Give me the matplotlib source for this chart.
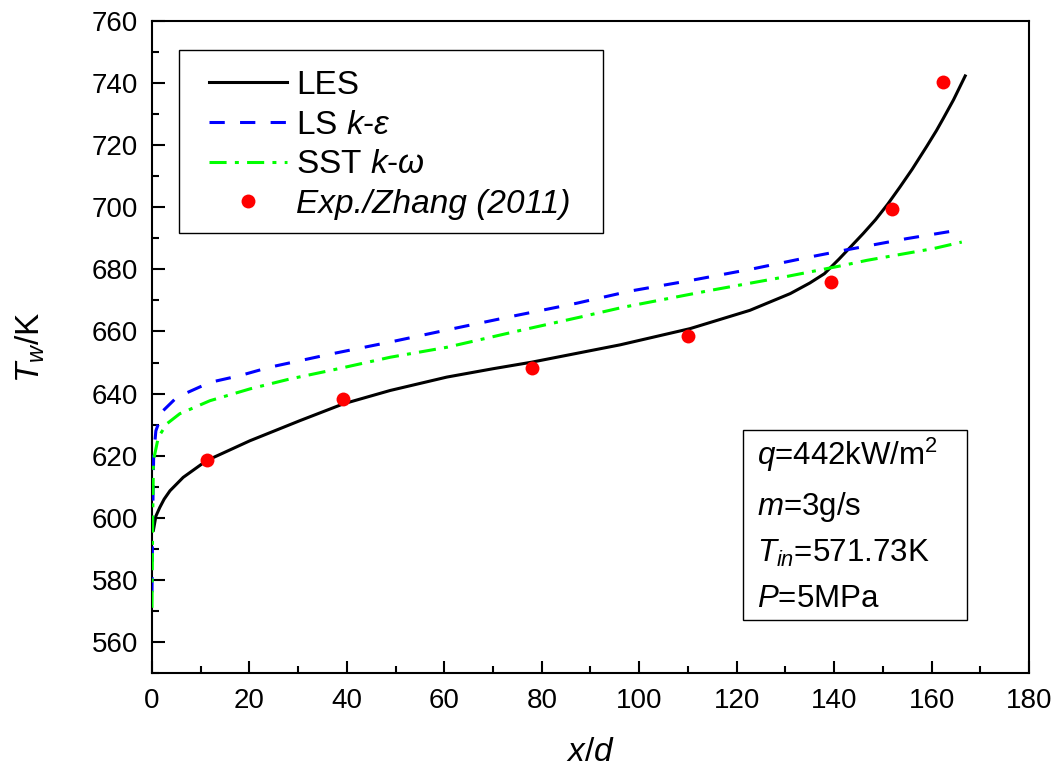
import matplotlib
matplotlib.use("Agg")
import matplotlib.pyplot as plt
from matplotlib.ticker import MultipleLocator
from matplotlib.patches import Rectangle

plt.rcParams['font.family'] = ['Liberation Sans', 'DejaVu Sans']
plt.rcParams['mathtext.fontset'] = 'custom'
plt.rcParams['mathtext.rm'] = 'Liberation Sans'
plt.rcParams['mathtext.it'] = 'Liberation Sans:italic'
plt.rcParams['mathtext.bf'] = 'Liberation Sans:bold'

# Wall temperature along the tube: LES and RANS predictions vs. experiment
les_x = [0.3, 0.8, 1.6, 2.5, 3.7, 6.4, 11.2, 20.1, 30.4, 39.3, 48.9, 60.5, 70.0,
         77.9, 96.1, 110.4, 122.7, 131.0, 135.0, 138.0, 141.0, 143.3, 146.0,
         148.5, 151.0, 153.5, 156.0, 159.0, 161.0, 162.4, 164.5, 166.9]
les_T = [596.0, 600.5, 603.3, 606.0, 608.7, 613.0, 618.4, 624.8, 631.3, 636.7,
         641.0, 645.3, 648.0, 650.1, 655.7, 660.9, 666.8, 672.2, 675.6, 678.6,
         683.3, 687.1, 691.6, 696.0, 701.0, 706.5, 712.2, 719.6, 724.7, 728.6,
         734.6, 742.3]

lske_x = [0.0, 0.15, 0.35, 0.8, 2.3, 5.1, 11.9, 18.1, 24.2, 30.4, 36.9, 48.9, 61.8,
          74.9, 87.2, 98.1, 110.8, 123.4, 135.7, 141.9, 154.9, 166.5]
lske_T = [576.0, 600.0, 620.0, 628.0, 634.5, 638.8, 643.6, 645.8, 648.5, 650.6, 652.8,
          656.6, 660.9, 665.2, 669.1, 673.0, 676.5, 680.2, 684.2, 686.1, 689.9, 692.9]

sst_x = [0.0, 0.15, 0.3, 1.3, 3.0, 5.7, 11.9, 20.1, 28.3, 36.5, 48.9, 60.5, 75.5,
         87.8, 96.7, 114.5, 129.6, 141.9, 146.7, 160.4, 166.2]
sst_T = [571.0, 600.0, 618.4, 625.9, 630.2, 633.5, 637.7, 641.5, 644.7, 647.4, 651.7,
         654.9, 660.3, 664.6, 667.8, 673.2, 677.5, 681.3, 682.9, 686.7, 688.8]

exp_x = [11.3, 39.2, 78.0, 110.0, 139.3, 151.9, 162.4]
exp_T = [618.7, 638.4, 648.1, 658.7, 675.9, 699.4, 740.4]

labels = ["LES", r"LS $k$-$\varepsilon$", r"SST $k$-$\omega$", "Exp./Zhang (2011)"]

fig = plt.figure(figsize=(10.59, 7.71), dpi=100)
ax = fig.add_axes([0.1435, 0.1271, 0.8282, 0.8457])

LW = 2.2
ax.plot(les_x, les_T, color='black', lw=LW, label=labels[0], zorder=3)
ax.plot(lske_x, lske_T, color='#0000ff', lw=LW, dashes=(5, 5), label=labels[1], zorder=3)
ax.plot(sst_x, sst_T, color='#00ff00', lw=LW, dashes=(5.6, 2.7, 1.3, 2.7),
        label=labels[2], zorder=3)
ax.plot(exp_x, exp_T, 'o', color='red', markersize=10, markeredgewidth=0,
        label=labels[3], zorder=4)

ax.set_xlim(0, 180)
ax.set_ylim(550, 760)
ax.xaxis.set_major_locator(MultipleLocator(20))
ax.xaxis.set_minor_locator(MultipleLocator(10))
ax.set_yticks(range(560, 761, 20))
ax.yaxis.set_minor_locator(MultipleLocator(10))

ax.tick_params(which='both', direction='in', top=False, right=False, width=1.5)
ax.tick_params(which='major', length=9)
ax.tick_params(which='minor', length=5)
ax.tick_params(axis='x', labelsize=20, pad=11)
ax.tick_params(axis='y', labelsize=20, pad=10)
for sp in ax.spines.values():
    sp.set_linewidth(1.5)

ax.set_xlabel(r"$x/d$", fontsize=24, labelpad=16)
ax.set_ylabel(r"$T_w\mathrm{/K}$", fontsize=24, labelpad=32)

# Legend entries without their own frame; the frame is drawn as a separate box
leg = ax.legend(loc='upper left', bbox_to_anchor=(0.065, 0.925), borderaxespad=0,
                fontsize=24, frameon=False, handlelength=2.34,
                handletextpad=0.27, labelspacing=0.26, borderpad=0.0)
leg.get_texts()[3].set_fontstyle('italic')
ax.add_patch(Rectangle((0.0308, 0.675), 0.483, 0.2806, transform=ax.transAxes,
                       fill=True, facecolor='white', edgecolor='black', lw=1.0,
                       zorder=4.5))
leg.set_zorder(6)

# Operating conditions box
ax.add_patch(Rectangle((0.674, 0.081), 0.255, 0.292, transform=ax.transAxes,
                       fill=False, edgecolor='black', lw=1.0, zorder=5))
cond_lines = [r"$q$=442kW/m$^2$", r"$m$=3g/s", r"$T_{in}$=571.73K", r"$P$=5MPa"]
cond_y = [0.319, 0.242, 0.170, 0.101]
for s, yy in zip(cond_lines, cond_y):
    ax.text(0.690, yy, s, transform=ax.transAxes, fontsize=22.5, va='baseline',
            ha='left', zorder=6)

fig.savefig("out.png", dpi=100)
